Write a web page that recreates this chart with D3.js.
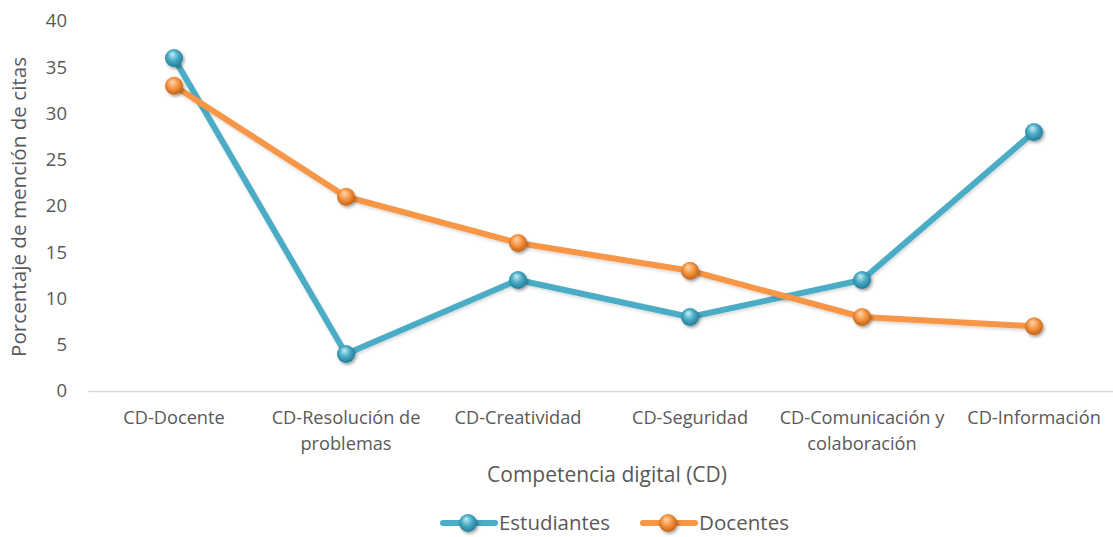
<!DOCTYPE html>
<html>
<head>
<meta charset="utf-8">
<script src="https://cdn.jsdelivr.net/npm/d3@7"></script>
<style>
  html, body { margin: 0; padding: 0; background: #fff; }
  svg { display: block; }
  svg text { font-family: "Open Sans", "Noto Sans", sans-serif; }
</style>
</head>
<body>
<svg id="chart" width="1113" height="537"></svg>
<script>
const categories = [
  ["CD-Docente"],
  ["CD-Resolución de", "problemas"],
  ["CD-Creatividad"],
  ["CD-Seguridad"],
  ["CD-Comunicación y", "colaboración"],
  ["CD-Información"]
];
const estudiantes = [36, 4, 12, 8, 12, 28];
const docentes = [33, 21, 16, 13, 8, 7];
const yTicks = [0, 5, 10, 15, 20, 25, 30, 35, 40];

const series = [
  { name: "Estudiantes", values: estudiantes, color: "#4BACC6", light: "#c4eef8", dark: "#1d7894", id: "gEst" },
  { name: "Docentes", values: docentes, color: "#F79646", light: "#fdd7ae", dark: "#bf5c0c", id: "gDoc" }
];

const svg = d3.select("#chart");
const margin = { left: 88, right: 1120, top: 21, bottom: 391 };
const textColor = "#595959";

// scale a text's font size so its rendered width hits a target
function fitWidth(sel, base, target) {
  sel.style("font-size", base + "px");
  const w = sel.node().getComputedTextLength();
  sel.style("font-size", (base * target / w).toFixed(2) + "px");
}

const x = d3.scaleBand().domain(d3.range(categories.length)).range([margin.left, margin.right]);
const y = d3.scaleLinear().domain([0, 40]).range([margin.bottom, margin.top]);
const cx = i => x(i) + x.bandwidth() / 2;

// gradients and shadow for the spherical markers
const defs = svg.append("defs");
series.forEach(s => {
  const g = defs.append("radialGradient").attr("id", s.id)
    .attr("cx", "48%").attr("cy", "45%").attr("r", "58%")
    .attr("fx", "40%").attr("fy", "28%");
  g.append("stop").attr("offset", "0%").attr("stop-color", s.light);
  g.append("stop").attr("offset", "50%").attr("stop-color", s.color);
  g.append("stop").attr("offset", "100%").attr("stop-color", s.dark);
});
const f = defs.append("filter").attr("id", "shadow").attr("x", "-50%").attr("y", "-50%").attr("width", "200%").attr("height", "200%");
f.append("feDropShadow").attr("dx", 1.5).attr("dy", 2).attr("stdDeviation", 1.5).attr("flood-color", "#000").attr("flood-opacity", 0.35);
const lf = defs.append("filter").attr("id", "lshadow").attr("x", "-10%").attr("y", "-10%").attr("width", "120%").attr("height", "120%");
lf.append("feDropShadow").attr("dx", 1).attr("dy", 2).attr("stdDeviation", 1.5).attr("flood-color", "#000").attr("flood-opacity", 0.15);

// y axis labels
const yAxis = svg.append("g").attr("transform", `translate(${margin.left},0)`)
  .call(d3.axisLeft(y).tickValues(yTicks).tickSize(0).tickPadding(21));
yAxis.attr("font-family", null).attr("font-size", null);
yAxis.select(".domain").remove();
yAxis.selectAll("text").attr("fill", textColor).style("font-size", "18.5px");

// x axis line and category labels
const xAxis = svg.append("g").attr("transform", `translate(0,${margin.bottom})`)
  .call(d3.axisBottom(x).tickSize(0).tickFormat(""));
xAxis.attr("font-family", null).attr("font-size", null);
xAxis.select(".domain").attr("stroke", "#d9d9d9").attr("stroke-width", 1.5);
xAxis.selectAll(".tick").each(function(d) {
  const t = d3.select(this).select("text").text(null)
    .attr("fill", textColor).style("font-size", "18.2px").attr("y", 0).attr("dy", null);
  categories[d].forEach((line, k) => {
    t.append("tspan").attr("x", 0).attr("y", 33 + k * 26).text(line);
  });
});

// axis titles
const yTitle = svg.append("text").attr("transform", `translate(26,${(margin.top + margin.bottom) / 2 + 1}) rotate(-90)`)
  .attr("text-anchor", "middle").attr("fill", textColor)
  .text("Porcentaje de mención de citas");
fitWidth(yTitle, 18, 300);
const xTitle = svg.append("text").attr("x", 607).attr("y", 482)
  .attr("text-anchor", "middle").attr("fill", textColor)
  .text("Competencia digital (CD)");
fitWidth(xTitle, 18, 240);

// lines
const line = d3.line().x((d, i) => cx(i)).y(d => y(d));
series.forEach(s => {
  svg.append("path").datum(s.values).attr("d", line)
    .attr("fill", "none").attr("stroke", s.color).attr("stroke-width", 6)
    .attr("stroke-linejoin", "round").attr("filter", "url(#lshadow)");
});
series.forEach(s => {
  svg.append("g").selectAll("circle").data(s.values).join("circle")
    .attr("cx", (d, i) => cx(i)).attr("cy", d => y(d)).attr("r", 9)
    .attr("fill", `url(#${s.id})`).attr("filter", "url(#shadow)");
});

// legend
const legend = svg.append("g").attr("transform", "translate(0,523)");
const legendPos = [440, 640];
const legendWidths = [111, 90];
series.forEach((s, i) => {
  const g = legend.append("g").attr("transform", `translate(${legendPos[i]},0)`);
  g.append("line").attr("x1", 3).attr("x2", 55).attr("y1", 0).attr("y2", 0)
    .attr("stroke", s.color).attr("stroke-width", 6).attr("stroke-linecap", "round");
  g.append("circle").attr("cx", 28).attr("cy", 0).attr("r", 9)
    .attr("fill", `url(#${s.id})`).attr("filter", "url(#shadow)");
  const t = g.append("text").attr("x", 59).attr("y", 0).attr("dy", "0.36em")
    .attr("fill", textColor).text(s.name);
  fitWidth(t, 18, legendWidths[i]);
});
</script>
</body>
</html>
